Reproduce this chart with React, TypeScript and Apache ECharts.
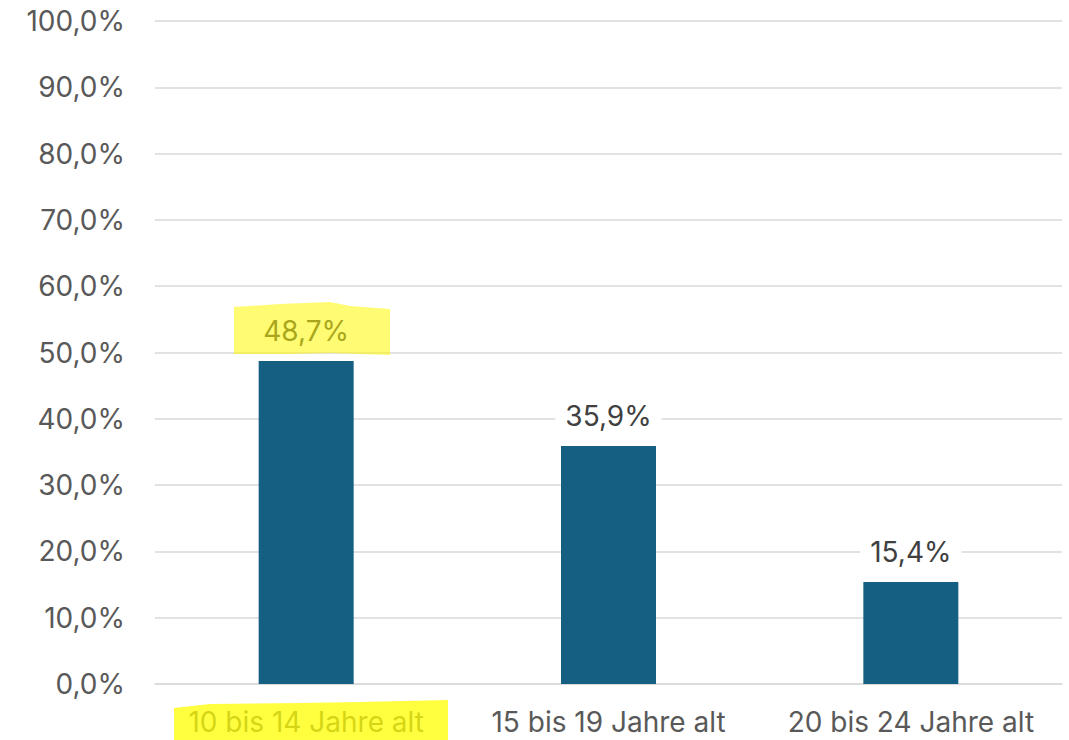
import React, { useEffect, useRef } from "react";
import * as echarts from "echarts";

const categories = ["10 bis 14 Jahre alt", "15 bis 19 Jahre alt", "20 bis 24 Jahre alt"];
const values = [48.7, 35.9, 15.4];

const fmt = (v: number) => v.toFixed(1).replace(".", ",") + "%";

export default function App() {
  const ref = useRef<HTMLDivElement>(null);
  useEffect(() => {
    if (!ref.current) return;
    const chart = echarts.init(ref.current, undefined, { renderer: "svg" });
    const font = "Inter, 'Noto Sans', sans-serif";
    chart.setOption({
      animation: false,
      grid: { left: 155, right: 7, top: 21, bottom: 56, containLabel: false, outerBoundsMode: "none" },
      xAxis: {
        type: "category",
        data: categories,
        axisLine: { show: true, lineStyle: { color: "#d9d9d9", width: 1.5 } },
        axisTick: { show: false },
        axisLabel: {
          interval: 0,
          margin: 24,
          fontSize: 28,
          fontFamily: font,
          color: "#595959",
        },
      },
      yAxis: {
        type: "value",
        min: 0,
        max: 100,
        interval: 10,
        axisLine: { show: false },
        axisTick: { show: false },
        splitLine: { lineStyle: { color: "#d9d9d9", width: 1.5 } },
        axisLabel: {
          margin: 30,
          fontSize: 28,
          fontFamily: font,
          color: "#595959",
          formatter: (v: number) => fmt(v),
        },
      },
      series: [
        {
          type: "bar",
          data: values,
          barWidth: 95,
          itemStyle: { color: "#156082" },
          label: {
            show: true,
            position: "top",
            distance: 14,
            fontSize: 28,
            fontFamily: font,
            color: "#404040",
            backgroundColor: "#ffffff",
            padding: [2, 10, 2, 10],
            formatter: (p: any) => fmt(p.value),
          },
        },
      ],
      graphic: [
        {
          type: "polygon",
          z: 100,
          shape: {
            points: [
              [234, 307], [280, 304], [330, 302], [350, 306], [390, 309],
              [390, 355], [330, 353], [290, 354], [234, 354],
            ],
          },
          style: { fill: "rgba(255,250,0,0.55)" },
        },
        {
          type: "polygon",
          z: 100,
          shape: {
            points: [
              [174, 708], [210, 704], [300, 703], [360, 702], [448, 700],
              [448, 740], [174, 740],
            ],
          },
          style: { fill: "rgba(255,255,0,0.75)" },
        },
      ],
    });
    return () => chart.dispose();
  }, []);
  return <div ref={ref} style={{ width: 1069, height: 740, position: "absolute", left: 0, top: 0 }} />;
}
